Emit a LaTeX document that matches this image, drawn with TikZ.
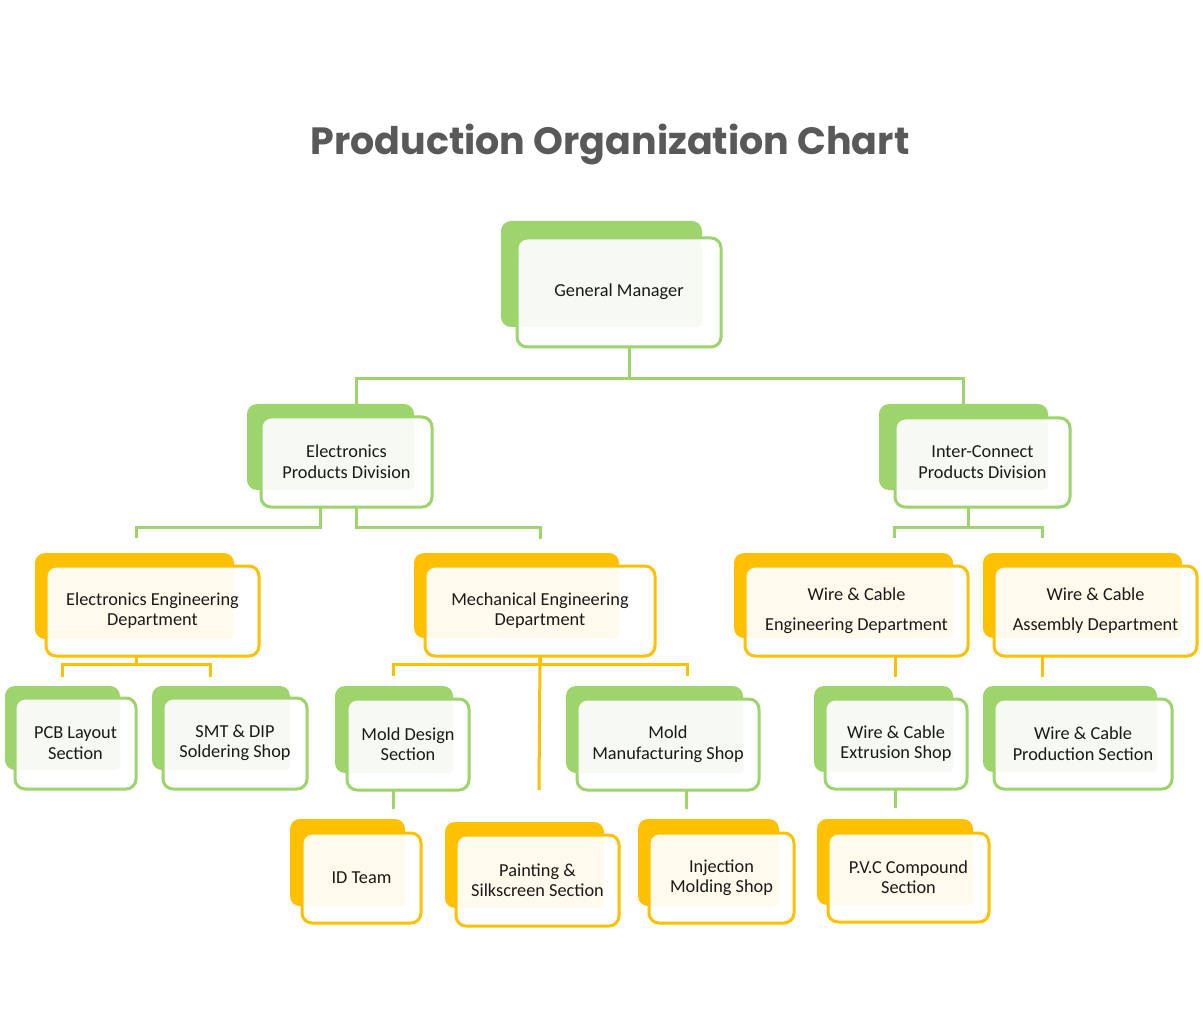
\documentclass[tikz,border=0pt]{standalone}
\usepackage{fontspec}
\setmainfont{Carlito}
\newfontfamily\titlefont{Poppins}
\usetikzlibrary{fit,calc,backgrounds}
\definecolor{cG}{HTML}{9DD46B}
\definecolor{cY}{HTML}{FFC000}
\definecolor{tG}{HTML}{F6FAF2}
\definecolor{tY}{HTML}{FFFAEC}
\definecolor{cT}{HTML}{595959}
\definecolor{cTxt}{HTML}{1A1A1A}
\tikzset{
  front/.style={draw=#1, line width=3pt, rounded corners=10pt, inner sep=0pt, outer sep=0pt},
  lbl/.style={align=center, text=cTxt, inner sep=0pt, font=\fontsize{18.3}{20.5}\selectfont},
  back/.style={fill=#1, rounded corners=10pt, inner sep=0pt, outer sep=0pt},
  gline/.style={draw=cG, line width=3pt},
  yline/.style={draw=cY, line width=3pt}
}
\newcommand\obox[7]{%
  \node[front=c#2, fit={(#5) (#6)}] (#1) {};
  \node[lbl] (#1t) at ($(#1.center)+(0,-0.5)$) {#7};
  \begin{scope}[on background layer]
    \node[back=c#2, fit={(#3) (#4)}] (#1b) {};
    \fill[white, rounded corners=10pt] (#1.north west) rectangle (#1.south east);
    \fill[t#2, rounded corners=4pt] ($(#1.north west)+(1.5,1.5)$) rectangle (#1b.south east);
  \end{scope}
}
\begin{document}
\begin{tikzpicture}[x=1pt,y=-1pt]
\useasboundingbox (0,0) rectangle (1203,1032);
\begin{scope}[on background layer]
\fill[white] (0,0) rectangle (1203,1032);
\end{scope}
\node[font=\titlefont\bfseries\fontsize{38}{46}\selectfont, text=cT, anchor=base] (title) at (610,155) {Production Organization Chart};

\obox{gm}{G}{501,221}{702,327}{517,238}{721,347}{General Manager}
\obox{epd}{G}{247,404}{414,490}{261,417}{432,507}{Electronics\\Products Division}
\obox{icpd}{G}{879,404}{1048,490}{895,418}{1070,507}{Inter-Connect\\Products Division}
\obox{eed}{Y}{35,553}{234,639}{46,566}{259,656}{Electronics Engineering\\Department}
\obox{med}{Y}{414,553}{619,638}{425,566}{655,656}{Mechanical Engineering\\Department}
\obox{wced}{Y}{734,553}{953,638}{745,566}{968,656}{Wire \& Cable\\[9.5pt]Engineering Department}
\obox{wcad}{Y}{983,553}{1182,638}{994,566}{1197,656}{Wire \& Cable\\[9.5pt]Assembly Department}
\obox{pcb}{G}{5,686}{120,770}{15,698}{136,789}{PCB Layout\\Section}
\obox{smt}{G}{152,686}{290,770}{163,698}{307,789}{SMT \& DIP\\Soldering Shop}
\obox{mds}{G}{335,686}{453,773}{347,699}{469,790}{Mold Design\\Section}
\obox{mms}{G}{566,686}{743,773}{577,699}{759,790}{Mold\\Manufacturing Shop}
\obox{wces}{G}{814,686}{953,772}{825,699}{967,789}{Wire \& Cable\\Extrusion Shop}
\obox{wcps}{G}{983,686}{1157,772}{994,699}{1172,789}{Wire \& Cable\\Production Section}
\obox{idt}{Y}{290,819}{405,906}{302,833}{421,923}{ID Team}
\obox{pss}{Y}{445,822}{604,908}{456,835}{619,926}{Painting \&\\Silkscreen Section}
\obox{ims}{Y}{638,819}{779,906}{649,833}{794,923}{Injection\\Molding Shop}
\obox{pvc}{Y}{817,819}{973,905}{828,833}{989,922}{P.V.C Compound\\Section}

% connectors
\draw[gline] ([xshift=10]gm.south) -- ++(0,32) -| ($(epdb.north)+(25.5,0)$);
\draw[gline] ([xshift=10]gm.south) -- ++(0,32) -| (icpdb.north);
\draw[gline] ([xshift=-26.5]epd.south) -- ++(0,20) -| ($(eedb.north)+(1.5,-15)$);
\draw[gline] ([xshift=9.5]epd.south) -- ++(0,20) -| ($(med.north)+(0,-27)$);
\draw[yline] ([xshift=-16.5]eed.south) -- ++(0,8) -| ($(pcbb.north)+(-0.5,-9)$);
\draw[yline] ([xshift=-16.5]eed.south) -- ++(0,8) -| ($(smtb.north)+(-11,-9)$);
\draw[yline] (med.south) -- ($(pssb.north)+(14.5,-32)$);
\draw[yline] (med.south) -- ++(0,8) -| ($(mdsb.north)+(-1,-10)$);
\draw[yline] (med.south) -- ++(0,8) -| ($(mmsb.north)+(32.5,-10)$);
\draw[gline] ([xshift=-15]mds.south) -- ($(idtb.north)+(45.5,-10)$);
\draw[gline] ([xshift=18]mms.south) -- ($(imsb.north)+(-22.5,-10)$);
\draw[gline] ([xshift=-14.5]icpd.south) -- ++(0,20) -| ($(wcedb.north)+(50.5,-15)$);
\draw[gline] ([xshift=-14.5]icpd.south) -- ++(0,20) -| ($(wcadb.north)+(-40.5,-15)$);
\draw[yline] ([xshift=38.5]wced.south) -- ($(wcesb.north)+(11.5,-9)$);
\draw[yline] ([xshift=-53.5]wcad.south) -- ($(wcpsb.north)+(-28,-9)$);
\draw[gline] ([xshift=-1]wces.south) -- ($(pvcb.north)+(0,-11)$);
\end{tikzpicture}
\end{document}
